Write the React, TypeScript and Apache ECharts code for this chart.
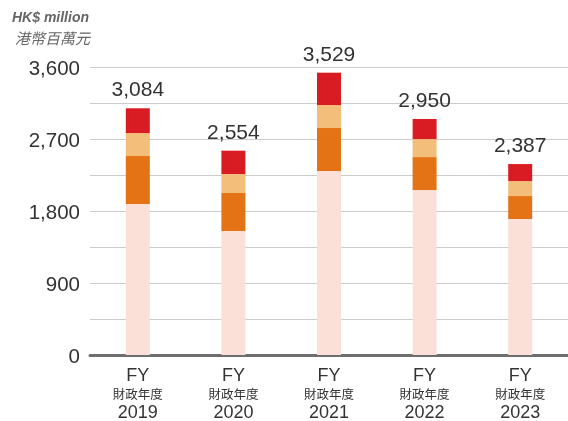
import React, { useEffect, useRef } from "react";
import * as echarts from "echarts";

const categories = ["2019", "2020", "2021", "2022", "2023"];
const baseSeg = [1887, 1550, 2300, 2062, 1700];
const orangeSeg = [600, 475, 537, 412, 287];
const lightSeg = [287, 237, 287, 225, 187];
const redSeg = [310, 292, 405, 251, 213];
const totals = [3084, 2554, 3529, 2950, 2387];
const yTicks = [0, 900, 1800, 2700, 3600];

export default function App() {
  const ref = useRef<HTMLDivElement>(null);
  useEffect(() => {
    if (!ref.current) return;
    const chart = echarts.init(ref.current, null, { renderer: "svg" });
    const font = "Liberation Sans, Arial, Noto Sans CJK TC, sans-serif";
    const barW = 24;
    chart.setOption({
      animation: false,
      textStyle: { fontFamily: font },
      grid: { left: 90, top: 67, width: 480, height: 288 },
      graphic: [
        {
          type: "text",
          left: 12,
          top: 10,
          style: {
            text: "HK$ million",
            fill: "#666",
            font: "italic bold 14px " + font,
          },
        },
        {
          type: "text",
          left: 15,
          top: 30,
          style: {
            text: "港幣百萬元",
            fill: "#666",
            font: "italic 15px Noto Sans CJK TC, sans-serif",
          },
        },
      ],
      xAxis: {
        type: "category",
        data: categories,
        axisLine: { lineStyle: { color: "#6e6e6e", width: 3 } },
        axisTick: { show: false },
        axisLabel: {
          margin: 11,
          formatter: (v: string) => `{a|FY}\n{b|財政年度}\n{c|${v}}`,
          rich: {
            a: { fontSize: 18, color: "#333", lineHeight: 18, fontFamily: font },
            b: {
              fontSize: 12.5,
              color: "#333",
              lineHeight: 18,
              fontFamily: "Noto Sans CJK TC, sans-serif",
            },
            c: { fontSize: 18, color: "#333", lineHeight: 19, fontFamily: font },
          },
        },
      },
      yAxis: {
        type: "value",
        min: 0,
        max: 3600,
        interval: 450,
        axisLine: { show: false },
        axisTick: { show: false },
        splitLine: { lineStyle: { color: "#cccccc", width: 1 } },
        axisLabel: {
          margin: 10,
          fontSize: 20.5,
          color: "#333",
          formatter: (v: number) =>
            yTicks.includes(v) ? v.toLocaleString("en-US") : "",
        },
      },
      series: [
        {
          type: "bar",
          stack: "t",
          barWidth: barW,
          data: baseSeg,
          itemStyle: { color: "#fbe0d8" },
        },
        {
          type: "bar",
          stack: "t",
          barWidth: barW,
          data: orangeSeg,
          itemStyle: { color: "#e37314" },
        },
        {
          type: "bar",
          stack: "t",
          barWidth: barW,
          data: lightSeg,
          itemStyle: { color: "#f2be7a" },
        },
        {
          type: "bar",
          stack: "t",
          barWidth: barW,
          data: redSeg,
          itemStyle: { color: "#d91c23" },
          label: {
            show: true,
            position: "top",
            distance: 9,
            fontSize: 21,
            color: "#333",
            fontFamily: font,
            formatter: (p: any) => totals[p.dataIndex].toLocaleString("en-US"),
          },
        },
      ],
    });
    return () => chart.dispose();
  }, []);
  return (
    <div
      ref={ref}
      style={{ position: "fixed", left: 0, top: 0, width: 568, height: 421 }}
    />
  );
}
